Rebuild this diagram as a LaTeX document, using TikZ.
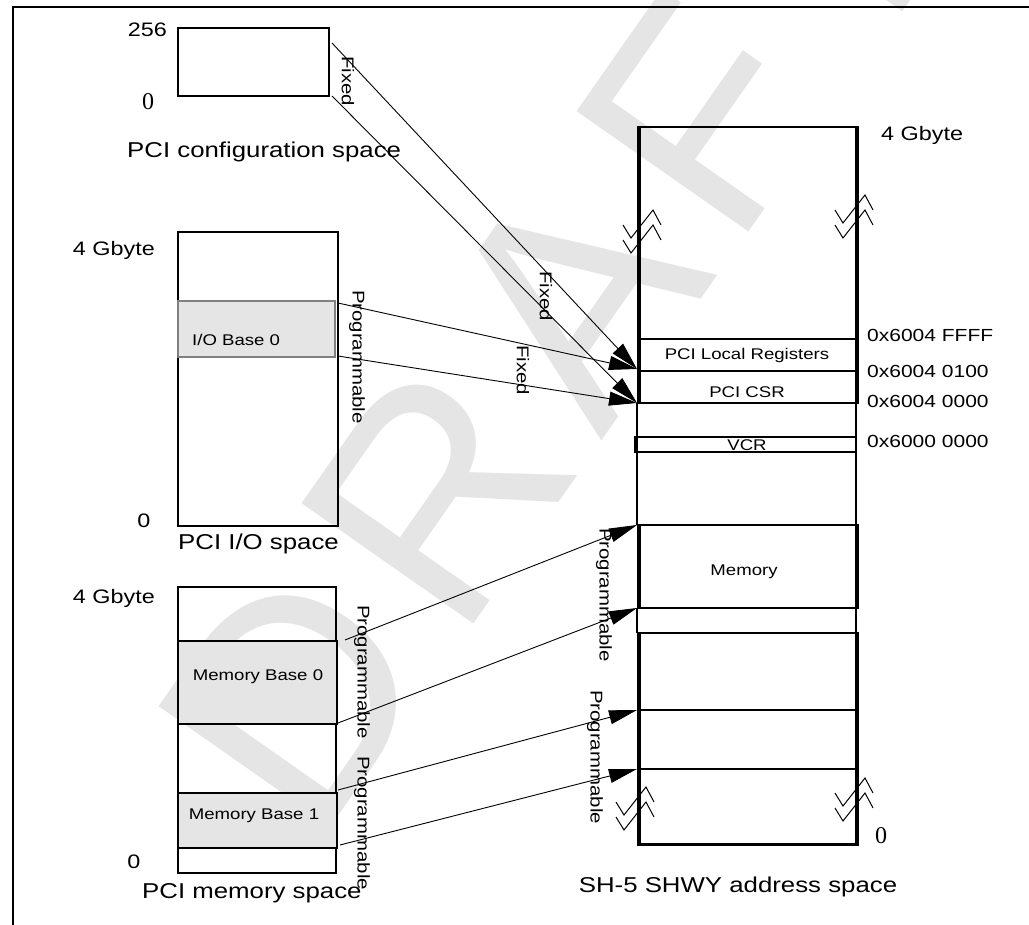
\documentclass[tikz,border=0pt]{standalone}
\usepackage{fontspec}
\setmainfont{Liberation Sans}[FakeStretch=1.2]
\newfontfamily\serifz{Liberation Serif}
\newfontfamily\wmfont{Liberation Sans}
\usetikzlibrary{arrows.meta}
\begin{document}
\begin{tikzpicture}[x=1pt,y=-1pt,
  thin/.style={line width=2pt},
  thick/.style={line width=4pt},
  conn/.style={line width=0.9pt,-{Triangle[length=28pt,width=14pt]}},
  big/.style={font=\fontsize{21.5}{24}\selectfont,inner sep=0pt},
  mid/.style={font=\fontsize{19.5}{22}\selectfont,inner sep=0pt},
  small/.style={font=\fontsize{15.5}{18}\selectfont,inner sep=0pt},
  rot/.style={font=\fontsize{17}{20}\selectfont,inner sep=0pt,rotate=-90},
  hex/.style={font=\fontsize{17.5}{20}\selectfont,inner sep=0pt,anchor=base west},
  ser/.style={font=\serifz\fontsize{24}{26}\selectfont,inner sep=0pt},
  wm/.style={rotate=55,text=black!10,font=\wmfont\fontsize{305}{305}\selectfont,inner sep=0pt},
  brkmark/.pic={
    \draw[line width=1pt] (-19,0) -- (-11,13) -- (11,-15) -- (19,0);
    \draw[line width=1pt] (-19,15) -- (-11,28) -- (11,0) -- (19,15);
  }
]
\useasboundingbox (0,0) rectangle (1029,925);
% watermark
\begin{scope}
\clip (0,0) rectangle (1029,925);
\node[wm] (wmD) at (294,697) {D};
\node[wm] (wmR) at (436.5,494) {R};
\node[wm] (wmA) at (574,298) {A};
\node[wm] (wmF) at (701.7,116) {F};
\node[wm] (wmT) at (824.6,-59.5) {T};
\end{scope}
% frame
\draw[thin] (13,925) -- (13,7.5) -- (1029,7.5);

% PCI configuration space
\draw[thin] (178,28) rectangle (329,96);
\node[mid,anchor=base east] (c256) at (167,37) {256};
\node[ser] (c0) at (148,101.5) {0};
\node[big,anchor=base west] (cfgt) at (127,158) {PCI configuration space};

% PCI I/O space
\draw[thin] (178,232) rectangle (338,526);
\draw[line width=2pt,draw=black!50,fill=black!10] (178,301) rectangle (335,357);
\node[small,anchor=west] (iob) at (192,340) {I/O Base 0};
\node[mid,anchor=base east] (io4) at (155,256) {4 Gbyte};
\node[mid,anchor=base] (io0) at (144,527) {0};
\node[big,anchor=base west] (iot) at (178,549) {PCI I/O space};

% PCI memory space
\draw[thin] (178,587) rectangle (336,873);
\draw[thin,fill=black!10] (178,641) rectangle (337,724);
\draw[thin,fill=black!10] (178,793) rectangle (337,848);
\node[small] (mb0) at (258,677) {Memory Base 0};
\node[small] (mb1) at (254,816) {Memory Base 1};
\node[mid,anchor=base east] (m4) at (155,603) {4 Gbyte};
\node[mid,anchor=base] (m0) at (134,868) {0};
\node[big,anchor=base west] (mt) at (142,898) {PCI memory space};

% SH-5 SHWY address space
\draw[line width=2.5pt] (637,127) -- (859,127);
\draw[thick] (639,127) -- (639,403);
\draw[thick] (857,127) -- (857,403);
\draw[thin] (640,339) -- (857,339);
\draw[thin] (640,371) -- (857,371);
\draw[thin] (637,403) -- (859,403);
\draw[thin] (637,403) -- (637,525);
\draw[thin] (856,403) -- (856,525);
\draw[thin] (635,437) rectangle (856,452);
\draw[line width=2.5pt] (637,525) -- (859,525);
\draw[line width=2.5pt] (637,608) -- (859,608);
\draw[thick] (639,525) -- (639,608);
\draw[thick] (857,525) -- (857,608);
\draw[thin] (637,608) -- (637,633);
\draw[thin] (856,608) -- (856,633);
\draw[line width=2.5pt] (637,633) -- (859,633);
\draw[thick] (639,633) -- (639,845);
\draw[thick] (857,633) -- (857,845);
\draw[thin] (640,710) -- (857,710);
\draw[thin] (640,769) -- (857,769);
\draw[line width=3pt] (637,844) -- (859,844);
\pic at (642,225) {brkmark};
\pic at (854,210) {brkmark};
\pic at (635,802) {brkmark};
\pic at (854,793) {brkmark};

\node[small] (lr) at (747,355) {PCI Local Registers};
\node[small] (csr) at (747,392) {PCI CSR};
\node[small] (vcr) at (747,445) {VCR};
\node[small] (mem) at (744,572) {Memory};
\node[mid,anchor=base west] (s4) at (881,141) {4 Gbyte};
\node[hex] (h1) at (867,342) {0x6004 FFFF};
\node[hex] (h2) at (867,378) {0x6004 0100};
\node[hex] (h3) at (867,408) {0x6004 0000};
\node[hex] (h4) at (867,448) {0x6000 0000};
\node[ser] (s0) at (881,836) {0};
\node[big,anchor=base] (st) at (738,892) {SH-5 SHWY address space};

% connector endpoints
\coordinate (cfgA) at (332,43);
\coordinate (cfgB) at (332,96);
\coordinate (ioA) at (338,303);
\coordinate (ioB) at (338,356);
\coordinate (mb0A) at (345,640);
\coordinate (mb0B) at (338,723);
\coordinate (mb1A) at (338,790);
\coordinate (mb1B) at (340,845);
\coordinate (lrB) at (637,369);
\coordinate (csrB) at (637,403);
\coordinate (memT) at (637,525);
\coordinate (memB) at (637,608);
\coordinate (l1) at (637,710);
\coordinate (l2) at (637,769);

\draw[conn] (cfgA) -- (lrB);
\draw[conn] (cfgB) -- (csrB);
\draw[conn] (ioA) -- (lrB);
\draw[conn] (ioB) -- (csrB);
\draw[conn] (mb0A) -- (memT);
\draw[conn] (mb0B) -- (memB);
\draw[conn] (mb1A) -- (l1);
\draw[conn] (mb1B) -- (l2);

% connector labels
\node[rot] (f1) at (348,81) {Fixed};
\node[rot] (f2) at (546,296) {Fixed};
\node[rot] (f3) at (523,370) {Fixed};
\node[rot] (p1) at (357,357) {Programmable};
\node[rot] (p2) at (362,672) {Programmable};
\node[rot] (p3) at (362,823) {Programmable};
\node[rot] (p4) at (604,595) {Programmable};
\node[rot] (p5) at (595,757) {Programmable};
\end{tikzpicture}
\end{document}
